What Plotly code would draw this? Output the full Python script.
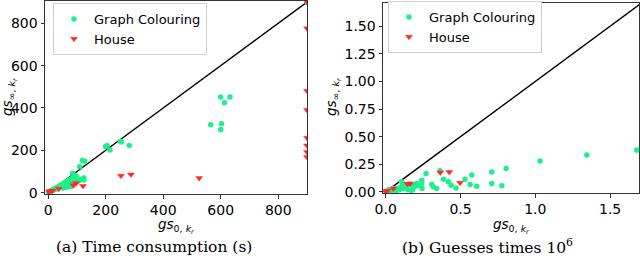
import plotly.graph_objects as go

# ---- data: (a) time consumption (s) ----
gc_time_x = [600, 632, 613, 565, 603, 600, 200, 205, 215, 252, 255, 282, 119, 127, 110, 124, 124, 107, 85, 93,
             2, 5, 8, 10, 12, 15, 18, 20, 22, 25, 28, 30, 32, 35, 38, 40, 42, 45, 48, 50, 52, 55, 58, 60, 62,
             65, 68, 70, 72, 75, 78, 80, 82, 85, 88, 90, 95, 100, 105, 110, 115, 60, 50, 70, 80, 900]
gc_time_y = [452, 452, 425, 321, 326, 299, 218, 223, 202, 243, 239, 223, 152, 149, 123, 70, 60, 60, 92, 79,
             2, 4, 6, 8, 10, 12, 14, 18, 15, 20, 22, 18, 25, 28, 26, 30, 35, 32, 38, 40, 30, 45, 35, 50, 42,
             30, 55, 40, 60, 35, 50, 65, 45, 70, 55, 80, 60, 75, 55, 60, 62, 25, 22, 28, 30, 900]
house_time_x = [900, 900, 900, 900, 900, 900, 900, 900, 525, 253, 288, 97, 121, 88, 37, 6, 3, 15]
house_time_y = [900, 776, 481, 391, 259, 223, 192, 169, 69, 80, 86, 45, 32, 35, 19, 8, 3, 10]
diag_time = [0, 900]

# ---- data: (b) guesses times 10^6 ----
gc_guess_x = [1.678, 1.344, 1.032, 0.805, 0.709, 0.709, 0.776, 0.575, 0.530, 0.564, 0.608, 0.470, 0.437,
              0.419, 0.386, 0.363, 0.341, 0.319, 0.308, 0.270, 0.241, 0.241, 0.243, 0.207, 0.18, 0.16,
              0.13, 0.107, 0.10, 0.12, 0.15, 0.17, 0.08, 0.06, 0.05, 0.04, 0.03, 0.02, 0.01, 0.07, 0.09,
              0.11, 0.14, 0.20, 0.22, 0.18]
gc_guess_y = [0.379, 0.333, 0.279, 0.212, 0.179, 0.076, 0.055, 0.152, 0.115, 0.067, 0.052, 0.036, 0.061,
              0.091, 0.115, 0.191, 0.030, 0.045, 0.067, 0.167, 0.106, 0.076, 0.030, 0.076, 0.06, 0.07,
              0.06, 0.091, 0.04, 0.03, 0.02, 0.015, 0.03, 0.02, 0.03, 0.015, 0.01, 0.02, 0.005, 0.01, 0.02,
              0.05, 0.04, 0.05, 0.06, 0.02]
house_guess_x = [0.365, 0.425, 0.497, 0.163, 0.145, 0.051, 0.007, 0.0, 0.01]
house_guess_y = [0.175, 0.179, 0.082, 0.076, 0.073, 0.030, 0.006, 0.0, 0.01]
diag_guess = [0, 1.75]

GREEN = "#1ef08c"
RED = "#ff2a2a"
FONT = "DejaVu Sans"
W, H = 640, 258

fig = go.Figure()

def add_panel(gx, gy, hx, hy, diag, xa, ya, legend):
    fig.add_trace(go.Scatter(x=diag, y=diag, mode="lines", line=dict(color="black", width=1.5),
                             showlegend=False, xaxis=xa, yaxis=ya, hoverinfo="skip"))
    fig.add_trace(go.Scatter(x=gx, y=gy, mode="markers", name="Graph Colouring",
                             marker=dict(color=GREEN, size=5.5, symbol="circle"),
                             xaxis=xa, yaxis=ya, legend=legend))
    fig.add_trace(go.Scatter(x=hx, y=hy, mode="markers", name="House",
                             marker=dict(color=RED, size=6, symbol="triangle-down",
                                         line=dict(color=RED, width=0.5)),
                             xaxis=xa, yaxis=ya, legend=legend))

add_panel(gc_time_x, gc_time_y, house_time_x, house_time_y, diag_time, "x", "y", "legend")
add_panel(gc_guess_x, gc_guess_y, house_guess_x, house_guess_y, diag_guess, "x2", "y2", "legend2")

axis_common = dict(showline=True, linecolor="#333", linewidth=1, mirror=True, ticks="outside",
                   ticklen=3.5, tickcolor="#333", showgrid=False, zeroline=False, automargin=False,
                   tickfont=dict(family=FONT, size=14, color="black"))

xtitle = "<i>gs</i><sub>0, <i>k<sub>r</sub></i></sub>"
ytitle = "<i>gs</i><sub>∞, <i>k<sub>r</sub></i></sub>"
tfont = dict(family=FONT, size=13.5, color="black")
cfont = dict(family="DejaVu Serif", size=15.5, color="black")

def ann(text, px, py, font, angle=0):
    return dict(text=text, x=px / W, y=1 - py / H, xref="paper", yref="paper", showarrow=False,
                xanchor="center", yanchor="middle", textangle=angle, font=font)

fig.update_layout(
    width=W, height=H, margin=dict(l=0, r=0, t=0, b=0, autoexpand=False),
    paper_bgcolor="white", plot_bgcolor="white",
    xaxis=dict(domain=[45/W, 307/W], range=[-11, 900], tickvals=[0, 200, 400, 600, 800], **axis_common),
    yaxis=dict(domain=[64/H, 257/H], range=[-6, 905], tickvals=[0, 200, 400, 600, 800], **axis_common),
    xaxis2=dict(domain=[383/W, 639/W], range=[-0.018, 1.693], tickvals=[0, 0.5, 1.0, 1.5],
                ticktext=["0.0", "0.5", "1.0", "1.5"], anchor="y2", **axis_common),
    yaxis2=dict(domain=[65/H, 255/H], range=[-0.01, 1.71],
                tickvals=[0, 0.25, 0.5, 0.75, 1.0, 1.25, 1.5],
                ticktext=["0.00", "0.25", "0.50", "0.75", "1.00", "1.25", "1.50"], anchor="x2",
                **axis_common),
    legend=dict(x=53/W, y=1 - 3/H, xanchor="left", yanchor="top", bgcolor="white",
                bordercolor="#d0d0d0", borderwidth=1, font=dict(family=FONT, size=13, color="black")),
    legend2=dict(x=388/W, y=1 - 1/H, xanchor="left", yanchor="top", bgcolor="white",
                 bordercolor="#d0d0d0", borderwidth=1, font=dict(family=FONT, size=13, color="black")),
    annotations=[
        ann(xtitle, 176, 226, tfont),
        ann(xtitle, 511, 226, tfont),
        ann(ytitle, 9, 97, tfont, -90),
        ann(ytitle, 333, 97, tfont, -90),
        ann("(a) Time consumption (s)", 154, 247, cfont),
        ann("(b) Guesses times 10<sup>6</sup>", 487, 246, cfont),
    ],
)

fig.write_html("out.html", config={"displayModeBar": False},
               post_script="document.body.style.margin='0';document.body.style.padding='0';")
